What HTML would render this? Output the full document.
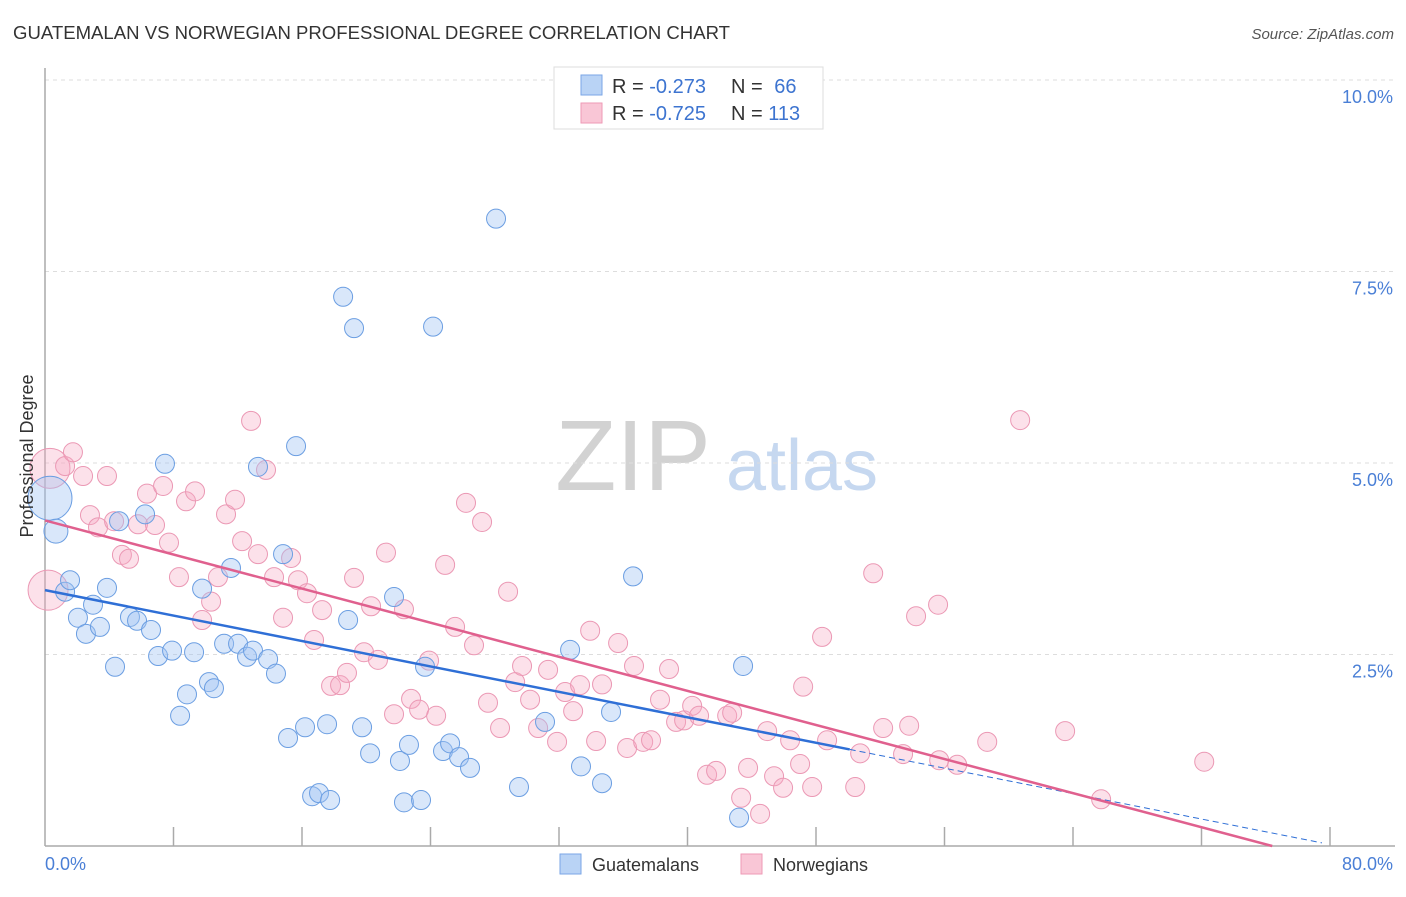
<!DOCTYPE html>
<html><head><meta charset="utf-8"><style>
body{margin:0;background:#fff;font-family:"Liberation Sans",sans-serif}
svg text{font-family:"Liberation Sans",sans-serif}
</style></head><body>
<svg width="1406" height="892" viewBox="0 0 1406 892" xmlns="http://www.w3.org/2000/svg">
<text x="13" y="39" font-size="18" fill="#333" textLength="717" lengthAdjust="spacingAndGlyphs">GUATEMALAN VS NORWEGIAN PROFESSIONAL DEGREE CORRELATION CHART</text>
<text x="1394" y="39" font-size="15" fill="#555" text-anchor="end" font-style="italic">Source: ZipAtlas.com</text>
<g>
<text x="633" y="490" font-size="100" font-family="Liberation Serif" fill="#d2d2d2" text-anchor="middle">ZIP</text>
<text x="802" y="490" font-size="72" fill="#c6d8f0" text-anchor="middle">atlas</text>
</g>
<g id="grid"></g>
<g id="axes"></g>
<g id="marks"></g>
<text transform="translate(33,456) rotate(-90)" font-size="18" fill="#333" text-anchor="middle">Professional Degree</text>
<g>
<rect x="554" y="67" width="269" height="62" fill="#fff" stroke="#ddd"/>
<rect x="581" y="75" width="21" height="20" fill="#b9d3f5" stroke="#7aa6e6"/>
<rect x="581" y="103" width="21" height="20" fill="#f9c6d6" stroke="#ee9ab6"/>
<text x="612" y="93" font-size="20" fill="#333">R = <tspan fill="#3d74d0">-0.273</tspan></text>
<text x="731" y="93" font-size="20" fill="#333">N = <tspan fill="#3d74d0" dx="6">66</tspan></text>
<text x="612" y="120" font-size="20" fill="#333">R = <tspan fill="#3d74d0">-0.725</tspan></text>
<text x="731" y="120" font-size="20" fill="#333">N = <tspan fill="#3d74d0">113</tspan></text>
</g>
<g>
<rect x="560" y="854" width="21" height="20" fill="#b9d3f5" stroke="#7aa6e6"/>
<text x="592" y="871" font-size="18" fill="#333">Guatemalans</text>
<rect x="741" y="854" width="21" height="20" fill="#f9c6d6" stroke="#ee9ab6"/>
<text x="773" y="871" font-size="18" fill="#333">Norwegians</text>
</g>
</svg>
<script>
const yTicks=[2.5,5.0,7.5,10.0];
const yTickLabels=["2.5%","5.0%","7.5%","10.0%"];
const xTicks=[0,8,16,24,32,40,48,56,64,72,80];
const xTickLabels=["0.0%","80.0%"];
const blueX=[0.31,0.68,1.25,1.56,2.05,2.55,2.99,3.42,3.86,4.36,4.61,5.29,5.73,6.23,6.60,7.04,7.47,7.91,8.41,8.84,9.28,9.78,10.21,10.52,11.15,11.58,12.02,12.58,12.95,13.26,13.89,14.38,14.82,15.13,15.63,16.19,16.63,17.06,17.56,17.75,18.56,18.87,19.24,19.74,20.24,21.73,22.10,22.35,22.66,23.41,23.66,24.16,24.78,25.22,25.78,26.46,28.08,29.51,31.13,32.69,33.37,34.68,35.24,36.61,43.21,43.46];
const blueY=[4.54,4.11,3.32,3.47,2.98,2.77,3.15,2.86,3.37,2.34,4.24,2.99,2.94,4.33,2.82,2.48,4.99,2.55,1.70,1.98,2.53,3.36,2.14,2.06,2.64,3.63,2.64,2.47,2.55,4.95,2.44,2.25,3.81,1.41,5.22,1.55,0.65,0.69,1.59,0.60,7.17,2.95,6.76,1.55,1.21,3.25,1.11,0.57,1.32,0.60,2.34,6.78,1.24,1.34,1.16,1.02,8.19,0.77,1.62,2.56,1.04,0.82,1.75,3.52,0.37,2.35];
const pinkX=[0.31,0.19,1.25,1.74,2.37,2.80,3.30,3.86,4.30,4.79,5.23,5.79,6.35,6.85,7.35,7.72,8.34,8.78,9.34,9.78,10.34,10.77,11.27,11.83,12.27,12.83,13.26,13.76,14.26,14.82,15.32,15.75,16.31,16.75,17.25,17.81,18.37,18.80,19.24,19.86,20.30,20.73,21.23,21.73,22.35,22.79,23.29,23.91,24.35,24.91,25.53,26.21,26.71,27.21,27.58,28.33,28.83,29.27,29.70,30.20,30.70,31.32,31.88,32.38,32.88,33.31,33.94,34.31,34.68,35.68,36.24,36.67,37.24,37.73,38.29,38.85,39.29,39.79,40.29,40.72,41.22,41.78,42.47,42.78,43.34,43.77,44.52,44.96,45.39,45.95,46.39,47.01,47.76,48.38,48.69,47.20,50.44,50.75,51.56,52.18,53.42,53.80,54.23,55.60,55.67,56.79,58.66,60.71,63.51,65.75,72.17];
const pinkY=[4.93,3.34,4.96,5.14,4.83,4.32,4.16,4.83,4.24,3.80,3.75,4.20,4.60,4.19,4.70,3.96,3.51,4.50,4.63,2.95,3.19,3.51,4.33,4.52,3.98,5.55,3.81,4.91,3.51,2.98,3.76,3.47,3.30,2.69,3.08,2.09,2.10,2.26,3.50,2.53,3.13,2.43,3.83,1.72,3.09,1.92,1.78,2.42,1.70,3.67,2.86,4.48,2.62,4.23,1.87,1.54,3.32,2.14,2.35,1.91,1.54,2.30,1.36,2.01,1.76,2.10,2.81,1.37,2.11,2.65,1.28,2.35,1.36,1.38,1.91,2.31,1.62,1.64,1.83,1.70,0.93,0.98,1.70,1.74,0.63,1.02,0.42,1.50,0.91,0.76,1.38,1.07,0.77,2.73,1.38,2.08,0.77,1.21,3.56,1.54,1.20,1.57,3.00,3.15,1.12,1.06,1.36,5.56,1.50,0.61,1.10];
const blueTrend=[3.34,0.02];
const pinkTrend=[4.25,-0.20];
const blueSolidEnd=50.1;
const NS="http://www.w3.org/2000/svg";
const X0=45,X1=1330,Y0=846,Y1=80;
function sx(v){return X0+(v/80)*(X1-X0);}
function sy(v){return Y0-(v/10)*(Y0-Y1);}
function mk(tag,attrs,parent){const e=document.createElementNS(NS,tag);for(const k in attrs)e.setAttribute(k,attrs[k]);parent.appendChild(e);return e;}
const grid=document.getElementById('grid'),axes=document.getElementById('axes'),marks=document.getElementById('marks');
yTicks.forEach((t,i)=>{
  const l=mk('line',{x1:X0,x2:1395,y1:sy(t),y2:sy(t),stroke:'#ddd','stroke-dasharray':'4,4'},grid);
  
  
  const tx=mk('text',{x:1393,y:sy(t)+23,'font-size':18,fill:'#4a7fd6','text-anchor':'end'},axes);
  tx.textContent=yTickLabels[i];
  
  
});
const al=mk('line',{x1:X0,x2:X0,y1:68,y2:Y0,stroke:'#aaa','stroke-width':1.5},axes);


const bl=mk('line',{x1:X0,x2:1395,y1:Y0,y2:Y0,stroke:'#aaa','stroke-width':1.5},axes);


xTicks.forEach(t=>{if(t===0)return;
  const l=mk('line',{x1:sx(t),x2:sx(t),y1:Y0-19,y2:Y0,stroke:'#aaa','stroke-width':1.5},axes);
  
  
});
const xl0=mk('text',{x:X0,y:870,'font-size':18,fill:'#4a7fd6'},axes);xl0.textContent=xTickLabels[0];


const xl1=mk('text',{x:1393,y:870,'font-size':18,fill:'#4a7fd6','text-anchor':'end'},axes);xl1.textContent=xTickLabels[1];


function pts(xs,ys,fill,stroke,name,big){
  xs.forEach((x,i)=>{
    const r=big[i]||9.5;
    const c=mk('circle',{cx:sx(x),cy:sy(ys[i]),r:r,fill:fill,stroke:stroke,'stroke-width':1},marks);
    
    
  });
}
pts(pinkX,pinkY,'rgba(246,170,196,0.35)','#eb98b4','norwegian-point',{0:20,1:20});
pts(blueX,blueY,'rgba(160,196,242,0.4)','#6b9ee2','guatemalan-point',{0:22,1:12});
function ty(tr,x){return tr[0]+(tr[1]-tr[0])*x/80;}
const bt=mk('line',{x1:sx(0),y1:sy(ty(blueTrend,0)),x2:sx(blueSolidEnd),y2:sy(ty(blueTrend,blueSolidEnd)),stroke:'#2f6fd6','stroke-width':2.5},marks);


const bd=mk('line',{x1:sx(blueSolidEnd),y1:sy(ty(blueTrend,blueSolidEnd)),x2:sx(79.5),y2:sy(ty(blueTrend,79.5)),stroke:'#2f6fd6','stroke-width':1,'stroke-dasharray':'6,4'},marks);


const pxEnd=80*pinkTrend[0]/(pinkTrend[0]-pinkTrend[1]);
const pt=mk('line',{x1:sx(0),y1:sy(ty(pinkTrend,0)),x2:sx(pxEnd),y2:sy(0),stroke:'#e0608e','stroke-width':2.5},marks);


</script>
</body></html>
